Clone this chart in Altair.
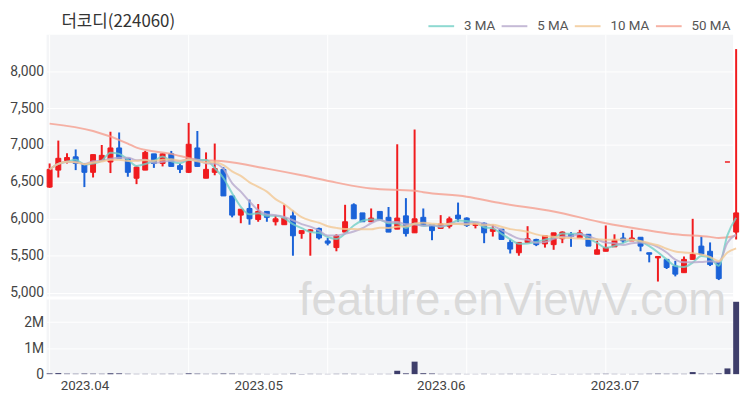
import altair as alt
import pandas as pd
import numpy as np

title_text = "더코디(224060)"
watermark_text = "feature.enViewV.com"

opens = [6430, 6660, 6790, 6840, 6750, 6630, 6790, 6770, 6960, 6820,
         6550, 6660, 6880, 6750, 6880, 6720, 6630, 6960, 6550, 6630,
         6670, 6310, 6050, 6140, 5990, 6100, 5960, 5920, 6040, 5800,
         5830, 5870, 5700, 5610, 5820, 6190, 6080, 5960, 6100, 6020,
         5860, 6040, 5810, 6020, 5920, 5870, 5900, 6050, 6010, 5910,
         5940, 5830, 5860, 5680, 5540, 5680, 5720, 5660, 5650, 5730,
         5790, 5740, 5790, 5520, 5560, 5620, 5740, 5700, 5750, 5540,
         5470, 5450, 5360, 5270, 5450, 5630, 5560, 5410, 6770, 5820]
highs = [6750, 7060, 6890, 6940, 6750, 6870, 7000, 7180, 7170, 6820,
         6720, 6920, 6880, 6890, 6920, 6750, 7300, 7190, 6900, 7020,
         6700, 6310, 6130, 6260, 6200, 6100, 6050, 6190, 6110, 5840,
         5860, 5880, 5740, 5790, 6190, 6210, 6080, 6140, 6100, 6160,
         7010, 6280, 7210, 6140, 5920, 6050, 6030, 6220, 6020, 5940,
         5950, 5920, 5860, 5720, 5680, 5900, 5730, 5770, 5810, 5830,
         5820, 5850, 5790, 5700, 5910, 5790, 5810, 5850, 5750, 5540,
         5490, 5450, 5430, 5490, 6000, 5760, 5680, 5410, 6770, 8300]
lows = [6420, 6560, 6750, 6660, 6430, 6560, 6790, 6620, 6820, 6570,
        6470, 6660, 6690, 6710, 6710, 6620, 6620, 6710, 6550, 6590,
        6310, 6020, 5940, 5920, 5960, 5960, 5910, 5920, 5500, 5730,
        5500, 5720, 5640, 5560, 5820, 6000, 5960, 5960, 5990, 5820,
        5860, 5760, 5810, 5910, 5710, 5870, 5870, 5960, 5890, 5870,
        5670, 5760, 5720, 5530, 5500, 5680, 5630, 5610, 5580, 5670,
        5620, 5740, 5630, 5520, 5560, 5620, 5670, 5700, 5560, 5410,
        5150, 5320, 5220, 5270, 5450, 5520, 5360, 5170, 6770, 5720]
closes = [6670, 6820, 6830, 6750, 6630, 6870, 6860, 6960, 6820, 6630,
          6700, 6900, 6750, 6880, 6710, 6670, 7010, 6710, 6670, 6680,
          6310, 6050, 6130, 6000, 6100, 6020, 6000, 6010, 5770, 5840,
          5850, 5740, 5670, 5770, 5960, 6000, 5960, 6010, 5990, 5820,
          6010, 5800, 6000, 5910, 5840, 5930, 6000, 6000, 5910, 5940,
          5810, 5860, 5720, 5590, 5680, 5730, 5650, 5770, 5810, 5820,
          5760, 5810, 5630, 5580, 5610, 5710, 5700, 5740, 5630, 5520,
          5490, 5340, 5250, 5450, 5520, 5520, 5380, 5190, 6770, 6080]
volumes = [30000, 40000, 20000, 15000, 25000, 20000, 15000, 35000, 30000, 15000,
           10000, 12000, 10000, 12000, 15000, 10000, 30000, 20000, 12000, 15000,
           25000, 20000, 12000, 10000, 10000, 8000, 8000, 10000, 20000, 10000,
           12000, 10000, 8000, 12000, 15000, 12000, 8000, 8000, 10000, 10000,
           130000, 30000, 480000, 35000, 25000, 10000, 10000, 12000, 8000, 8000,
           12000, 8000, 10000, 12000, 10000, 10000, 8000, 8000, 10000, 8000,
           8000, 8000, 10000, 12000, 15000, 10000, 8000, 8000, 10000, 15000,
           20000, 15000, 15000, 12000, 80000, 20000, 15000, 30000, 220000, 2780000]

ma50_idx = [0, 5, 9, 10, 14, 17, 20, 25, 29, 33, 37, 42, 43, 48, 52, 58, 64, 68, 72, 76, 77, 79]
ma50_val = [7290, 7190, 7020, 6965, 6880, 6800, 6780, 6680, 6590, 6490, 6410, 6380, 6360,
            6300, 6210, 6100, 5940, 5860, 5790, 5755, 5740, 5770]

month_idx = [4, 24, 45, 65]
month_lbl = ["2023.04", "2023.05", "2023.06", "2023.07"]
vgrid_idx = [0, 16, 32, 48, 64]
price_ticks = [5000, 5500, 6000, 6500, 7000, 7500, 8000]
vol_ticks = [0, 1000000, 2000000]

ma_names = ["3 MA", "5 MA", "10 MA", "50 MA"]
ma_colors = ["#72d0c6", "#b7a9cd", "#f2c893", "#f59f8f"]
RED, BLUE, NAVY, BG = "#f01b1e", "#1a62d8", "#3e3e6b", "#f4f5f7"

W, H = 694, 343
P_RANGE = [264, 0]
V_RANGE = [343, 268]
X_DOMAIN = [-0.35, 78.65]

df = pd.DataFrame({"i": range(len(closes)), "open": opens, "high": highs,
                   "low": lows, "close": closes, "volume": volumes})
df["lo_body"] = df[["open", "close"]].min(axis=1)
df["hi_body"] = df[["open", "close"]].max(axis=1)
df["col"] = np.where(df["close"] >= df["open"], RED, BLUE)

ma50_df = pd.DataFrame({"i": ma50_idx, "val": ma50_val, "ma": "50 MA"})

label_expr = "''"
for k, l in zip(reversed(month_idx), reversed(month_lbl)):
    label_expr = f"datum.value == {k} ? '{l}' : ({label_expr})"

xscale = alt.Scale(domain=X_DOMAIN, nice=False, zero=False, padding=0)
xaxis = alt.Axis(values=month_idx, labelExpr=label_expr, title=None, grid=False,
                 ticks=False, domain=False, labelFontSize=13.5, labelColor="#444",
                 labelPadding=5, labelFont="Roboto")
X = alt.X("i:Q", scale=xscale, axis=xaxis)

yscale_p = alt.Scale(domain=[4954, 8493], range=P_RANGE, nice=False, zero=False)
yaxis_p = alt.Axis(values=price_ticks, format=",d", title=None, grid=True,
                   gridColor="white", gridWidth=1, ticks=False, domain=False,
                   labelFontSize=14, labelColor="#444", labelPadding=3,
                   labelFont="Roboto", orient="left")

legend = alt.Legend(orient="none", legendX=385, legendY=-23, direction="horizontal",
                    title=None, symbolType="stroke", symbolSize=676,
                    symbolStrokeWidth=2, labelFontSize=13.5, labelColor="#555",
                    labelFont="Roboto", labelOffset=9, columnPadding=2, padding=0)
ma_stroke_scale = alt.Scale(domain=ma_names, range=ma_colors)

one = pd.DataFrame({"t": [title_text]})

vgrid = alt.Chart(pd.DataFrame({"i": vgrid_idx})).mark_rule(
    color="white", strokeWidth=1).encode(x=X, y=alt.value(0), y2=alt.value(H))
band = alt.Chart(one).mark_rect(color="white").encode(
    x=alt.value(0), x2=alt.value(W), y=alt.value(264.5), y2=alt.value(267.5))
title = alt.Chart(one).mark_text(align="left", baseline="middle", fontSize=17,
                                 font="Noto Sans CJK KR", color="#333").encode(
    text="t:N", x=alt.value(15), y=alt.value(-13))
wm = alt.Chart(pd.DataFrame({"t": [watermark_text]})).mark_text(
    align="center", baseline="alphabetic", fontSize=46, font="Liberation Sans",
    color="#dadada").encode(text="t:N", x=alt.value(471), y=alt.value(283))

wicks = alt.Chart(df).mark_rule(strokeWidth=2).encode(
    x=X, y=alt.Y("low:Q", scale=yscale_p, axis=yaxis_p), y2="high:Q",
    stroke=alt.Stroke("col:N", scale=None))
bodies = alt.Chart(df).mark_bar(size=5, strokeWidth=1).encode(
    x=X, y=alt.Y("lo_body:Q", scale=yscale_p, axis=yaxis_p), y2="hi_body:Q",
    fill=alt.Fill("col:N", scale=None), stroke=alt.Stroke("col:N", scale=None))
candles = alt.layer(wicks, bodies)

ma_short = alt.Chart(df).transform_window(
    ma3="mean(close)", frame=[-2, 0], sort=[alt.SortField("i")]
).transform_window(
    ma5="mean(close)", frame=[-4, 0], sort=[alt.SortField("i")]
).transform_window(
    ma10="mean(close)", frame=[-9, 0], sort=[alt.SortField("i")]
).transform_fold(["ma3", "ma5", "ma10"], as_=["key", "val"]).transform_calculate(
    ma="datum.key == 'ma3' ? '3 MA' : (datum.key == 'ma5' ? '5 MA' : '10 MA')"
).mark_line(strokeWidth=2, opacity=0.8, interpolate="monotone").encode(
    x=X, y=alt.Y("val:Q", scale=yscale_p, axis=yaxis_p),
    stroke=alt.Stroke("ma:N", scale=ma_stroke_scale, legend=legend),
    detail="ma:N")
ma_long = alt.Chart(ma50_df).mark_line(strokeWidth=2, opacity=0.8,
                                       interpolate="monotone").encode(
    x=X, y=alt.Y("val:Q", scale=yscale_p, axis=yaxis_p),
    stroke=alt.Stroke("ma:N", scale=ma_stroke_scale, legend=legend))
ma_layer = alt.layer(ma_long, ma_short)

price = alt.layer(vgrid, band, wm, title, candles, ma_layer).resolve_scale(
    stroke="independent", fill="independent")

yaxis_v = alt.Axis(values=vol_ticks,
                   labelExpr="datum.value == 0 ? '0' : (datum.value / 1000000) + 'M'",
                   title=None, grid=True, gridColor="white", gridWidth=1, ticks=False,
                   domain=False, labelFontSize=14, labelColor="#444", labelPadding=3,
                   labelFont="Roboto", orient="left")
vol = alt.Chart(df).mark_bar(size=6, color=NAVY).encode(
    x=X, y=alt.Y("volume:Q", scale=alt.Scale(domain=[0, 2850000], range=V_RANGE,
                                             nice=False, zero=True), axis=yaxis_v))

chart = alt.layer(price, vol).resolve_scale(y="independent").properties(
    width=W, height=H,
    padding={"left": 39, "top": 25, "right": 9, "bottom": 24},
    autosize=alt.AutoSizeParams(type="none"),
).configure_view(fill=BG, stroke=None)

chart.save("out.html", embed_options={"renderer": "svg", "actions": False})
